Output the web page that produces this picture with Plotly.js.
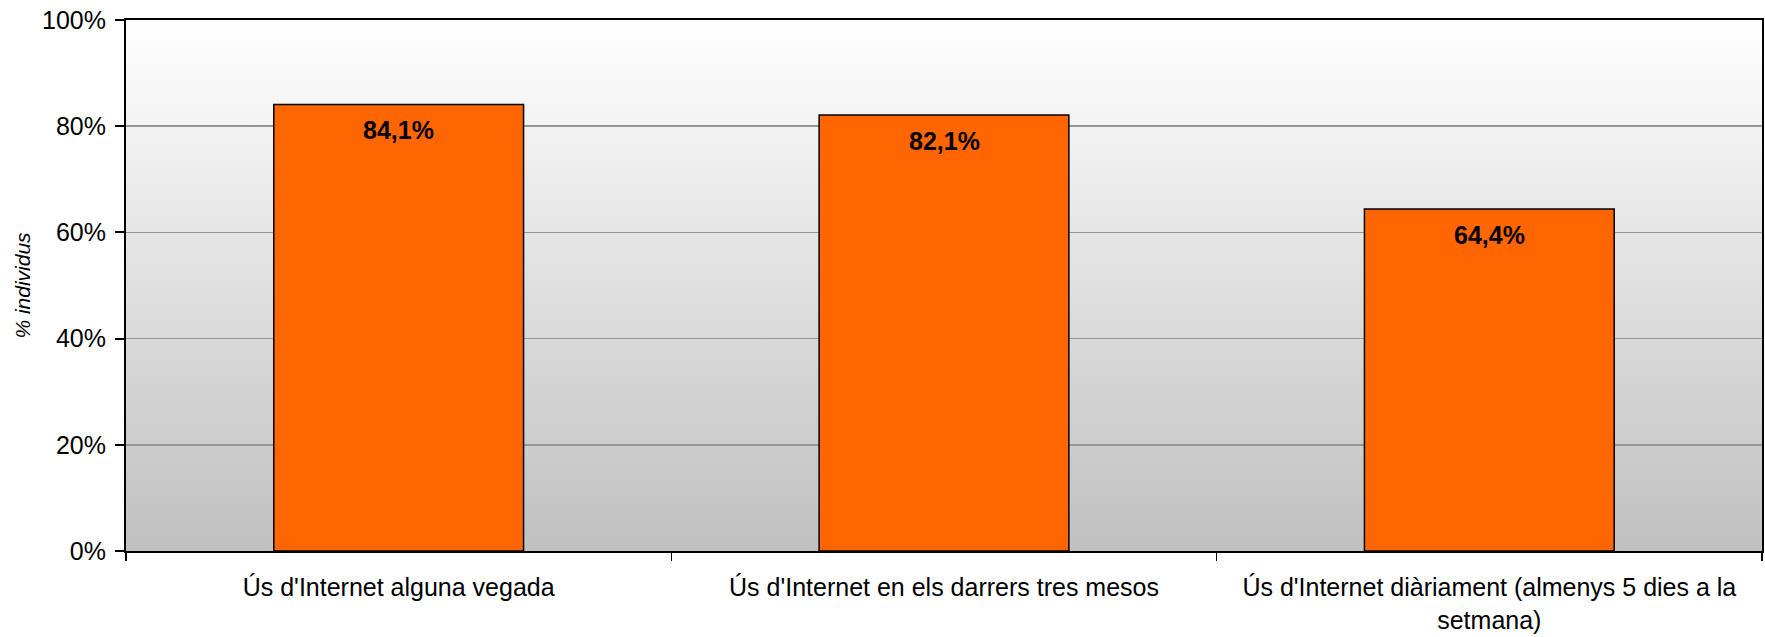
<!DOCTYPE html>
<html>
<head>
<meta charset="utf-8">
<script src="https://cdn.plot.ly/plotly-3.0.1.min.js"></script>
<style>html,body{margin:0;padding:0;background:#fff;}#chart{width:1765px;height:637px;}</style>
</head>
<body>
<div id="chart"></div>
<script>
const categories = [
  "Ús d'Internet alguna vegada",
  "Ús d'Internet en els darrers tres mesos",
  "Ús d'Internet diàriament (almenys 5 dies a la<br>setmana)"
];
const values = [84.1, 82.1, 64.4];
const yTickValues = [0, 20, 40, 60, 80, 100];
const yTickLabels = ["0%", "20%", "40%", "60%", "80%", "100%"];
const yTitle = "% individus";

const fmt = v => v.toFixed(1).replace('.', ',') + '%';

const gradSvg = "<svg xmlns='http://www.w3.org/2000/svg' width='10' height='100' preserveAspectRatio='none'>" +
  "<defs><linearGradient id='g' x1='0' y1='0' x2='0' y2='1'>" +
  "<stop offset='0' stop-color='#ffffff'/><stop offset='1' stop-color='#c0c0c0'/>" +
  "</linearGradient></defs><rect width='10' height='100' fill='url(#g)'/></svg>";
const gradUri = "data:image/svg+xml;charset=utf-8," + encodeURIComponent(gradSvg);

const trace = {
  type: 'bar',
  x: categories,
  y: values,
  marker: { color: '#FF6600', line: { color: '#000000', width: 1.5 } },
  hoverinfo: 'none'
};

const annotations = categories.map((c, i) => ({
  x: c, y: values[i], xref: 'x', yref: 'y',
  text: '<b>' + fmt(values[i]) + '</b>',
  showarrow: false, yanchor: 'top', xanchor: 'center', yshift: -10,
  font: { family: 'Liberation Sans, Arial, sans-serif', size: 25, color: '#000' }
}));

const layout = {
  width: 1765, height: 637,
  margin: { l: 126, r: 3, t: 20, b: 86 },
  paper_bgcolor: '#ffffff',
  plot_bgcolor: 'rgba(0,0,0,0)',
  font: { family: 'Liberation Sans, Arial, sans-serif', size: 25, color: '#000' },
  showlegend: false,
  bargap: 0.542,
  images: [{
    source: gradUri, xref: 'paper', yref: 'paper', x: 0, y: 1, sizex: 1, sizey: 1,
    xanchor: 'left', yanchor: 'top', sizing: 'stretch', layer: 'below'
  }],
  xaxis: {
    type: 'category',
    tickson: 'boundaries',
    ticks: 'outside', ticklen: 8, tickwidth: 1.5, tickcolor: '#000',
    showline: true, linecolor: '#000', linewidth: 2, mirror: true,
    showgrid: false, zeroline: false,
    tickfont: { size: 25, family: 'Liberation Sans, Arial, sans-serif' },
    ticklabelstandoff: 13,
    fixedrange: true
  },
  yaxis: {
    range: [0, 100],
    tickvals: yTickValues, ticktext: yTickLabels,
    ticks: 'outside', ticklen: 9, tickwidth: 2, tickcolor: '#000',
    showline: true, linecolor: '#000', linewidth: 2, mirror: true,
    showgrid: true, gridcolor: '#969696', gridwidth: 1.5,
    zeroline: false,
    tickfont: { size: 25, family: 'Liberation Sans, Arial, sans-serif' },
    ticklabelstandoff: 4,
    title: { text: '<i>' + yTitle + '</i>', standoff: 6,
             font: { size: 21, family: 'Liberation Sans, Arial, sans-serif' } },
    fixedrange: true
  },
  annotations: annotations
};

Plotly.newPlot('chart', [trace], layout, { staticPlot: true, displayModeBar: false });
</script>
</body>
</html>
